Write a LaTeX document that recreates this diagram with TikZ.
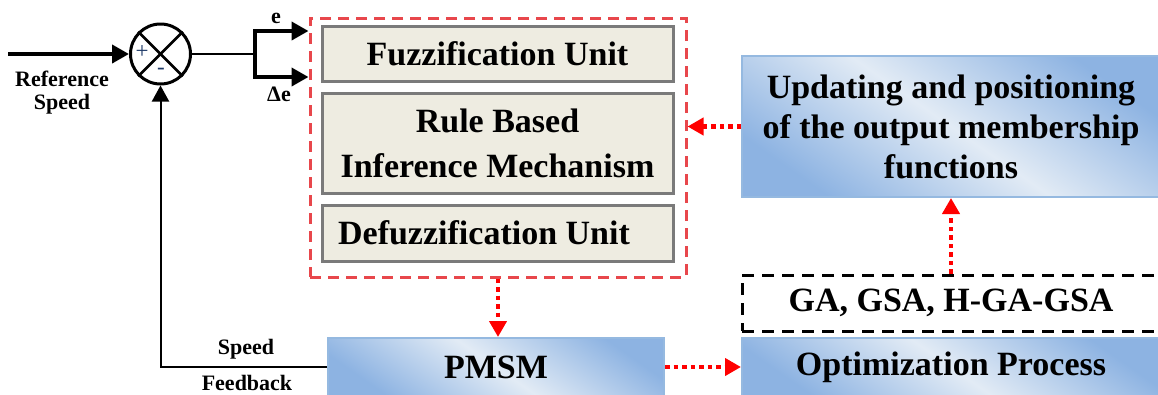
\documentclass[tikz,border=0pt]{standalone}
\usepackage{fontspec}
\setmainfont{Liberation Serif}
\usetikzlibrary{arrows.meta,calc}
\definecolor{boxgray}{HTML}{EEECE1}
\definecolor{boxedge}{HTML}{7A7A7A}
\definecolor{dashred}{HTML}{E8474C}
\definecolor{bluedark}{HTML}{8DB3E2}
\definecolor{bluelight}{HTML}{E2EBF5}
\definecolor{blueedge}{HTML}{95B9E0}
\definecolor{signblue}{HTML}{1F3A68}
\definecolor{dotred}{HTML}{FF0000}
\begin{document}
\begin{tikzpicture}[x=1pt,y=-1pt,
  bigtxt/.style={font=\fontsize{34}{40}\selectfont\bfseries},
  smalltxt/.style={font=\fontsize{22}{23}\selectfont\bfseries, inner sep=0pt, align=center},
  signtxt/.style={font=\fontsize{23}{23}\selectfont, text=signblue, inner sep=0pt},
  graybox/.style={draw=boxedge, line width=3pt, fill=boxgray, minimum width=351pt, inner sep=0pt, bigtxt, align=center},
  bluebox/.style={draw=blueedge, line width=2pt, top color=bluedark, bottom color=bluedark, middle color=bluelight, shading angle=-35, inner sep=0pt, bigtxt, align=center},
  redbox/.style={draw=dashred, line width=3pt, dash pattern=on 11pt off 7pt, inner sep=0pt},
  gabox/.style={draw=black, line width=3pt, dash pattern=on 12pt off 8pt, inner sep=0pt, bigtxt, align=center},
  reddots/.style={draw=dotred, line width=4.5pt, dash pattern=on 4.5pt off 4pt, -{Triangle[length=16pt,width=17pt]}},
  thickarrow/.style={draw=black, line width=4pt, line join=miter, -{Triangle[length=17pt,width=18pt]}},
  thinarrow/.style={draw=black, line width=2pt, -{Triangle[length=16pt,width=17pt]}}
]
\useasboundingbox (0,0) rectangle (1158,394);
\clip (0,0) rectangle (1158,394);

% fuzzy logic controller
\node[redbox, minimum width=376pt, minimum height=259pt] (flc) at (498,147.5) {};
\node[graybox, minimum height=55pt] (fuzz) at (497.5,53.5) {Fuzzification Unit};
\node[graybox, minimum height=100pt, font=\fontsize{34}{45}\selectfont\bfseries] (rule) at (497.5,143) {Rule Based\\Inference Mechanism};
\node[graybox, minimum height=56pt] (defuzz) at (497.5,233) {Defuzzification Unit\hspace*{27pt}};

% right side blocks
\node[bluebox, minimum width=418pt, minimum height=141pt] (upd) at (951,126.5) {Updating and positioning\\of the output membership\\functions};
\node[gabox, minimum width=418pt, minimum height=56pt] (ga) at (951,303) {GA, GSA, H-GA-GSA};
\node[bluebox, minimum width=418pt, minimum height=58pt] (opt) at (951,367) {Optimization Process};
\node[bluebox, minimum width=336pt, minimum height=58pt] (pmsm) at (496,367) {PMSM};

% summing junction
\node[circle, draw, line width=3pt, minimum size=60pt, inner sep=0pt] (sum) at (160.5,54) {};
\draw[line width=2.5pt] (sum.north west) -- (sum.south east);
\draw[line width=2.5pt] (sum.north east) -- (sum.south west);
\node[signtxt] (plus) at (142,52) {+};
\node[signtxt] (minus) at (161,71) {-};

% reference input
\coordinate (refin) at (8,54);
\draw[thickarrow] (refin) -- (sum.west);
\node[smalltxt] (reflbl) at (62,93) {Reference\\Speed};

% error outputs
\coordinate (split) at (255,54);
\coordinate (etop) at (255,31);
\coordinate (ebot) at (255,77);
\draw[line width=2pt] (sum.east) -- (split);
\draw[thickarrow] (split) |- (flc.west |- etop);
\draw[thickarrow] (split) |- (flc.west |- ebot);
\node[smalltxt] (elbl) at (276,18) {e};
\node[smalltxt] (delbl) at (279,94) {Δe};

% speed feedback
\draw[thinarrow] (pmsm.west) -| (sum.south);
\node[smalltxt] (spdlbl) at (246,349) {Speed};
\node[smalltxt] (fblbl) at (247,383) {Feedback};

% red dotted connectors
\draw[reddots] (flc.south) -- (flc.south |- pmsm.north);
\draw[reddots] (upd.west) -- (flc.east |- upd.west);
\draw[reddots] (ga.north) -- (upd.south);
\draw[reddots] (pmsm.east) -- (opt.west);
\end{tikzpicture}
\end{document}
